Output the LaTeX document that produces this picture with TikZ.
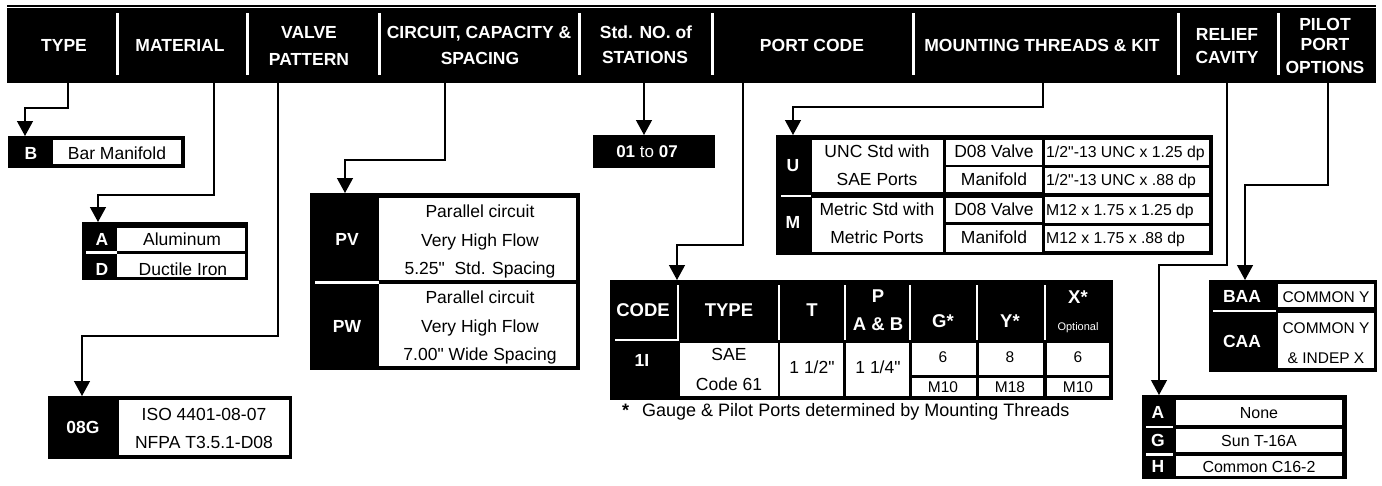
\documentclass[tikz,border=0pt]{standalone}
\usepackage{fontspec}
\setmainfont{Liberation Sans}[Ligatures=TeXOff]
\usetikzlibrary{arrows.meta}
\begin{document}
\begin{tikzpicture}[x=1pt,y=-1pt,
  conn/.style={line width=1.3pt,-{Triangle[width=16pt,length=15pt]}},
  wsep/.style={white,line width=2.5pt},
  hdiv/.style={white,line width=3pt},
  hd/.style={anchor=base,text=white,inner sep=0,font=\fontsize{17.5}{20}\selectfont\bfseries},
  lt/.style={anchor=base,text=white,inner sep=0,font=\fontsize{17.5}{20}\selectfont\bfseries},
  tx/.style={anchor=base,text=black,inner sep=0,font=\fontsize{17.5}{20}\selectfont},
  sm/.style={anchor=base,text=black,inner sep=0,font=\fontsize{15.8}{18}\selectfont},
  gx/.style={anchor=base,text=black,inner sep=0,font=\fontsize{15.5}{18}\selectfont},
  ph/.style={anchor=base,text=white,inner sep=0,font=\fontsize{18.5}{20}\selectfont\bfseries},
  cw/.style={anchor=base,text=black,inner sep=0,font=\fontsize{15.5}{18}\selectfont},
  aw/.style={anchor=base,text=black,inner sep=0,font=\fontsize{16}{18}\selectfont},
]
\useasboundingbox (0,0) rectangle (1382,485);
\fill[white] (0,0) rectangle (1382,485);

% ---------- header band
\fill[black] (7,5) rectangle (1376,6.6);
\fill[black] (7,8.3) rectangle (1376,83);
\foreach \x in {117,247,379,579,712,913,1178,1278}
  \draw[hdiv] (\x,13) -- (\x,75);
\node[hd] (hType) at (64,51) {TYPE};
\node[hd] (hMat) at (180,51) {MATERIAL};
\node[hd] (hValA) at (309,38) {VALVE};
\node[hd] (hValB) at (309,65) {PATTERN};
\node[hd] (hCirA) at (479,38) {CIRCUIT, CAPACITY \&};
\node[hd] (hCirB) at (480,64) {SPACING};
\node[hd] (hStdA) at (646,38) {Std. NO. of};
\node[hd] (hStdB) at (645,63) {STATIONS};
\node[hd] (hPort) at (812,51) {PORT CODE};
\node[hd] (hMnt) at (1042,51) {MOUNTING THREADS \& KIT};
\node[hd] (hRelA) at (1227,40) {RELIEF};
\node[hd] (hRelB) at (1227,63) {CAVITY};
\node[hd] (hPilA) at (1325,30) {PILOT};
\node[hd] (hPilB) at (1325,50) {PORT};
\node[hd] (hPilC) at (1325,73) {OPTIONS};

% ---------- connector ends
\coordinate (sType) at (68,83);   \coordinate (tType) at (25,136);
\coordinate (sMat) at (214,83);   \coordinate (tMat) at (98,222);
\coordinate (sVal) at (278,83);   \coordinate (tVal) at (82,396);
\coordinate (sCir) at (445,83);   \coordinate (tCir) at (345,193);
\coordinate (sStd) at (644,83);   \coordinate (tStd) at (644,135);
\coordinate (sPort) at (743,83);  \coordinate (tPort) at (677,280);
\coordinate (sMnt) at (1043,83);  \coordinate (tMnt) at (793,135);
\coordinate (sRel) at (1227,83);  \coordinate (tRel) at (1159,395);
\coordinate (sPil) at (1328,83);  \coordinate (tPil) at (1245,280);

\draw[conn] (sType) -- ++(0,25) -| (tType);
\draw[conn] (sMat) -- ++(0,112) -| (tMat);
\draw[conn] (sVal) -- ++(0,253) -| (tVal);
\draw[conn] (sCir) -- ++(0,77) -| (tCir);
\draw[conn] (sStd) -- (tStd);
\draw[conn] (sPort) -- ++(0,162) -| (tPort);
\draw[conn] (sMnt) -- ++(0,24) -| (tMnt);
\draw[conn] (sRel) -- ++(0,182) -| (tRel);
\draw[conn] (sPil) -- ++(0,102) -| (tPil);

% ---------- TYPE
\fill[black] (8,136) rectangle (185,168);
\fill[white] (53,140) rectangle (181,164);
\node[lt] (lB) at (31,159) {B};
\node[tx] (dB) at (117,159) {Bar Manifold};

% ---------- MATERIAL
\fill[black] (82,222) rectangle (248,280);
\fill[white] (117,228) rectangle (245,251);
\fill[white] (117,254) rectangle (245,277);
\draw[wsep] (86,252.5) -- (117,252.5);
\node[lt] (lA) at (102,245) {A};
\node[tx] (dA) at (182,245) {Aluminum};
\node[lt] (lD) at (102,275) {D};
\node[tx] (dD) at (183,275) {Ductile Iron};

% ---------- VALVE PATTERN
\fill[black] (48,396) rectangle (292,459);
\fill[white] (119,400) rectangle (289,455);
\node[lt] (l08) at (83,433) {08G};
\node[tx] (d08a) at (204,420) {ISO 4401-08-07};
\node[tx] (d08b) at (204,448) {NFPA T3.5.1-D08};

% ---------- CIRCUIT
\fill[black] (310,193) rectangle (580,370);
\fill[white] (379,198) rectangle (576,280);
\fill[white] (379,284) rectangle (576,366);
\draw[wsep] (315,282.3) -- (379,282.3);
\node[lt] (lPV) at (347,245) {PV};
\node[tx] (pv1) at (480,217) {Parallel circuit};
\node[tx] (pv2) at (480,246) {Very High Flow};
\node[tx] (pv3) at (480,274) {5.25"\ \ Std. Spacing};
\node[lt] (lPW) at (347,332) {PW};
\node[tx] (pw1) at (480,303) {Parallel circuit};
\node[tx] (pw2) at (480,332) {Very High Flow};
\node[tx] (pw3) at (480,360) {7.00" Wide Spacing};

% ---------- STATIONS
\fill[black] (593,135) rectangle (715,168);
\node[anchor=base,text=white,inner sep=0,font=\fontsize{17}{20}\selectfont] (st) at (647,157) {\textbf{01} to \textbf{07}};

% ---------- MOUNTING
\fill[black] (776,135) rectangle (1213,255);
\fill[white] (812,140) rectangle (943,192);
\fill[white] (812,198) rectangle (943,252);
\fill[white] (946,140) rectangle (1042,164.5);
\fill[white] (946,167) rectangle (1042,192);
\fill[white] (946,198) rectangle (1042,222);
\fill[white] (946,224.5) rectangle (1042,252);
\fill[white] (1044.5,139.5) rectangle (1209,165);
\fill[white] (1044.5,168) rectangle (1209,193);
\fill[white] (1044.5,197) rectangle (1209,223);
\fill[white] (1044.5,226) rectangle (1209,251);
\draw[wsep] (781,196) -- (811,196);
\node[lt] (lU) at (793,171) {U};
\node[lt] (lM) at (793,228) {M};
\node[tx] (u1) at (877,157) {UNC Std with};
\node[tx] (u2) at (877,185) {SAE Ports};
\node[tx] (m1) at (877,215) {Metric Std with};
\node[tx] (m2) at (877,243) {Metric Ports};
\node[tx] (u3) at (994,157) {D08 Valve};
\node[tx] (u4) at (994,185) {Manifold};
\node[tx] (m3) at (994,215) {D08 Valve};
\node[tx] (m4) at (994,243) {Manifold};
\node[sm,anchor=base west] (u5) at (1046,157) {1/2"-13 UNC x 1.25 dp};
\node[sm,anchor=base west] (u6) at (1046,185) {1/2"-13 UNC x .88 dp};
\node[sm,anchor=base west] (m5) at (1046,215) {M12 x 1.75 x 1.25 dp};
\node[sm,anchor=base west] (m6) at (1046,243) {M12 x 1.75 x .88 dp};

% ---------- PORT CODE
\fill[black] (610,280) rectangle (1113,400);
\foreach \x in {779,845,910,977,1045}
  \draw[hdiv,line width=2.5pt] (\x,285) -- (\x,340);
\draw[wsep] (678,285) -- (678,341.2);
\draw[wsep] (615,340) -- (679.2,340);
\fill[white] (680,343) rectangle (777.5,396);
\fill[white] (780,343) rectangle (843,396);
\fill[white] (846,343) rectangle (908.5,396);
\fill[white] (912,343) rectangle (975.5,375);
\fill[white] (912,378) rectangle (975.5,396);
\fill[white] (979,343) rectangle (1043,375);
\fill[white] (979,378) rectangle (1043,396);
\fill[white] (1047,343) rectangle (1109,375);
\fill[white] (1047,378) rectangle (1109,396);
\node[ph] (pc1) at (643,316) {CODE};
\node[ph] (pc2) at (729,316) {TYPE};
\node[ph] (pc3) at (812,316) {T};
\node[ph] (pc4a) at (878,302) {P};
\node[ph] (pc4b) at (878,330) {A \& B};
\node[ph] (pc5) at (943,327) {G*};
\node[ph] (pc6) at (1010,327) {Y*};
\node[ph] (pc7) at (1078,303) {X*};
\node[anchor=base,text=white,inner sep=0,font=\fontsize{11}{13}\selectfont] (pc7b) at (1078,330) {Optional};
\node[lt] (p1I) at (642,366) {1I};
\node[tx] (pSae) at (729,360) {SAE};
\node[tx] (pCode) at (729,390) {Code 61};
\node[tx] (pT) at (812,373) {1 1/2"};
\node[tx] (pP) at (878,373) {1 1/4"};
\node[gx] (pG1) at (943,362) {6};
\node[gx] (pG2) at (943,392) {M10};
\node[gx] (pY1) at (1010,362) {8};
\node[gx] (pY2) at (1010,392) {M18};
\node[gx] (pX1) at (1078,362) {6};
\node[gx] (pX2) at (1078,392) {M10};
\node[anchor=base west,inner sep=0,font=\fontsize{18}{20}\selectfont\bfseries] (fnS) at (622,416) {*};
\node[anchor=base west,inner sep=0,font=\fontsize{18}{20}\selectfont] (fn) at (642,416) {Gauge \& Pilot Ports determined by Mounting Threads};

% ---------- PILOT PORT OPTIONS
\fill[black] (1209,280) rectangle (1377,372);
\fill[white] (1278,284) rectangle (1374,307);
\fill[white] (1278,313) rectangle (1374,368);
\draw[wsep] (1213,311) -- (1276,311);
\node[lt] (lBAA) at (1242,302) {BAA};
\node[lt] (lCAA) at (1242,347) {CAA};
\node[cw] (c1) at (1326,302) {COMMON Y};
\node[cw] (c2) at (1326,333) {COMMON Y};
\node[cw] (c3) at (1326,363) {\& INDEP X};

% ---------- RELIEF CAVITY
\fill[black] (1142,395) rectangle (1347,479);
\fill[white] (1176,400) rectangle (1342,425);
\fill[white] (1176,429) rectangle (1342,452);
\fill[white] (1176,456) rectangle (1342,476);
\draw[wsep] (1146,427) -- (1173,427);
\draw[wsep] (1146,454.5) -- (1173,454.5);
\node[lt] (rA) at (1158,418) {A};
\node[lt] (rG) at (1158,446) {G};
\node[lt] (rH) at (1158,472) {H};
\node[aw] (rA2) at (1259,418) {None};
\node[aw] (rG2) at (1259,446) {Sun T-16A};
\node[aw] (rH2) at (1259,472) {Common C16-2};
\end{tikzpicture}
\end{document}
